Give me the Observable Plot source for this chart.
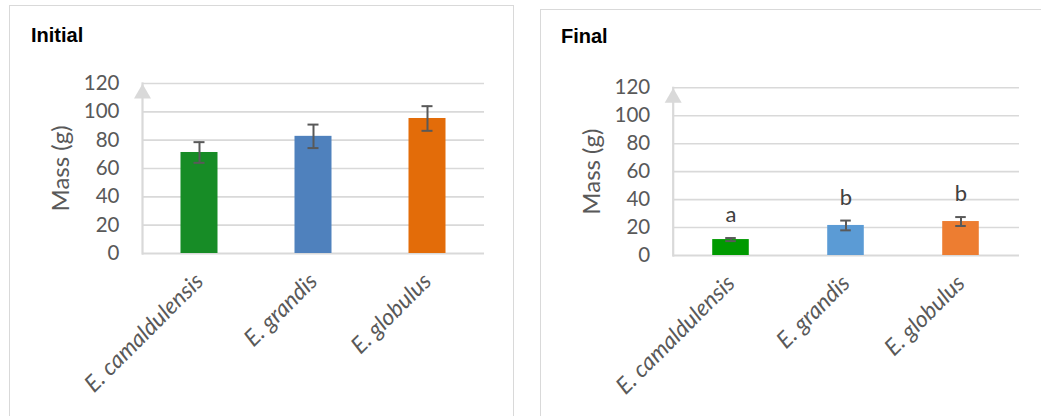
<!DOCTYPE html>
<html><head><meta charset="utf-8">
<script src="https://cdn.jsdelivr.net/npm/d3@7"></script>
<script src="https://cdn.jsdelivr.net/npm/@observablehq/plot@0.6"></script>
<style>
body{margin:0;background:#fff;width:1041px;height:416px;overflow:hidden;position:relative;font-family:Lato,sans-serif}
.panel{position:absolute;border:1px solid #d9d9d9;box-sizing:border-box;pointer-events:none}
.title{position:absolute;font:bold 20px "Liberation Sans",Arial,sans-serif;line-height:20px;color:#000}
.holder{position:absolute;top:0}
</style></head>
<body>
<div class="panel" style="left:9px;top:5px;width:505px;height:420px"></div>
<div class="panel" style="left:540px;top:9px;width:520px;height:420px"></div>
<div class="title" style="left:31px;top:25px">Initial</div>
<div class="title" style="left:561px;top:26px">Final</div>
<div id="c1" class="holder" style="left:0px"></div>
<div id="c2" class="holder" style="left:520px"></div>
<script>
const species = ["E. camaldulensis", "E. grandis", "E. globulus"];
const initialMass = [71.3, 82.7, 95.3];
const initialErr = [7.3, 8.3, 8.7];
const finalMass = [11.4, 21.5, 24.3];
const finalErr = [1.1, 3.5, 3.2];
const finalLetters = ["a", "b", "b"];
const initialColors = ["#178c26", "#4f81bd", "#e36c09"];
const finalColors = ["#009a00", "#5b9bd5", "#ed7d31"];
const yTicks = [0, 20, 40, 60, 80, 100, 120];

function chart({mass, err, colors, letters, width, ml, mr, mt, mb}) {
  const data = species.map((s, i) => ({sp: s, mass: mass[i], err: err[i], color: colors[i], letter: letters ? letters[i] : ""}));
  const bw = (width - ml - mr) / species.length;
  const barInset = (bw - 37) / 2;
  const capInset = (bw - 11) / 2;
  const marks = [
    Plot.gridY(yTicks.slice(1), {stroke: "#d9d9d9", strokeOpacity: 1, strokeWidth: 1.6}),
    Plot.ruleY([0], {stroke: "#d9d9d9", strokeWidth: 2.2}),
    Plot.frame({anchor: "left", stroke: "#d9d9d9", strokeWidth: 2.2}),
    Plot.dot([0], {frameAnchor: "top-left", symbol: "triangle", r: 6.3, fill: "#d9d9d9", stroke: null, dy: 10}),
    Plot.barY(data, {x: "sp", y: "mass", fill: "color", insetLeft: barInset, insetRight: barInset}),
    Plot.ruleX(data, {x: "sp", y1: d => d.mass - d.err, y2: d => d.mass + d.err, stroke: "#595959", strokeWidth: 2}),
    Plot.tickY(data, {x: "sp", y: d => d.mass - d.err, stroke: "#595959", strokeWidth: 2, insetLeft: capInset, insetRight: capInset}),
    Plot.tickY(data, {x: "sp", y: d => d.mass + d.err, stroke: "#595959", strokeWidth: 2, insetLeft: capInset, insetRight: capInset}),
    Plot.axisY({ticks: yTicks, tickSize: 0, tickPadding: 23, fontSize: 20.5, label: null}),
    Plot.axisX({tickSize: 0, tickPadding: 24, tickRotate: -45, fontSize: 23, fontStyle: "italic", label: null}),
    Plot.text(["Mass (g)"], {frameAnchor: "left", textAnchor: "middle", dx: -81, rotate: -90, fontSize: 24, fill: "#595959"})
  ];
  if (letters) {
    marks.push(Plot.text(data, {x: "sp", y: d => d.mass + d.err, text: "letter", dy: -16, lineAnchor: "bottom", fontSize: 22, fill: "#404040"}));
  }
  return Plot.plot({
    width, height: 416,
    marginLeft: ml, marginRight: mr, marginTop: mt, marginBottom: mb,
    style: {background: "transparent", color: "#595959", fontFamily: "Lato, sans-serif", overflow: "visible"},
    x: {domain: species, padding: 0},
    y: {domain: [0, 120]},
    fill: {type: "identity"},
    marks
  });
}

document.getElementById("c1").appendChild(chart({mass: initialMass, err: initialErr, colors: initialColors, width: 520, ml: 142, mr: 36, mt: 83, mb: 163}));
document.getElementById("c2").appendChild(chart({mass: finalMass, err: finalErr, colors: finalColors, letters: finalLetters, width: 521, ml: 152.7, mr: 22, mt: 87.3, mb: 161}));
</script>
</body></html>
